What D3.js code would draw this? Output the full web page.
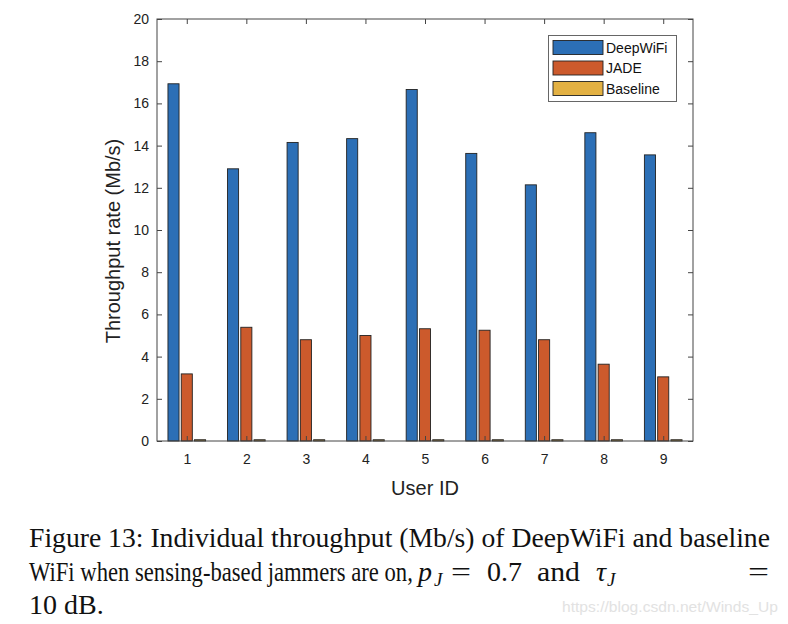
<!DOCTYPE html>
<html>
<head>
<meta charset="utf-8">
<script src="https://cdn.jsdelivr.net/npm/d3@7"></script>
<style>
  html, body { margin: 0; padding: 0; background: #fff; }
  svg { display: block; }
</style>
</head>
<body>
<svg id="chart" width="788" height="624"></svg>
<script>
// ---- Data ----
const users = [1, 2, 3, 4, 5, 6, 7, 8, 9];
const seriesNames = ["DeepWiFi", "JADE", "Baseline"];
const deepWiFi = [16.93, 12.90, 14.15, 14.33, 16.66, 13.63, 12.14, 14.61, 13.56];
const jade = [3.18, 5.39, 4.80, 5.00, 5.32, 5.25, 4.80, 3.64, 3.04];
const baseline = [0.06, 0.06, 0.06, 0.06, 0.06, 0.06, 0.06, 0.06, 0.06];
const yTicks = [0, 2, 4, 6, 8, 10, 12, 14, 16, 18, 20];
const colors = ["#2c6fb6", "#cc5a2c", "#e3b143"];

(function () {
const svg = d3.select("#chart");
const pLeft = 157, pRight = 693, pTop = 19, pBottom = 441;

const x = d3.scaleLinear().domain([0.5, 9.5]).range([pLeft, pRight]);
const y = d3.scaleLinear().domain([0, 20]).range([pBottom, pTop]);

const series = [deepWiFi, jade, baseline];
const offsetUnits = 0.223, barW = 0.186;

// Bars
const gBars = svg.append("g");
series.forEach((vals, si) => {
  gBars.selectAll(null)
    .data(vals.map((v, i) => ({ u: users[i], v })))
    .enter().append("rect")
    .attr("x", d => x(d.u + (si - 1) * offsetUnits - barW / 2))
    .attr("width", d => x(d.u + barW / 2) - x(d.u - barW / 2))
    .attr("y", d => y(d.v))
    .attr("height", d => y(0) - y(d.v))
    .attr("fill", colors[si])
    .attr("stroke", "#222")
    .attr("stroke-width", 0.9);
});

// Axes (box with inward ticks)
const axisColor = "#444";
const font = "'Liberation Sans', Arial, Helvetica, sans-serif";

const yAxisL = d3.axisLeft(y).tickValues(yTicks).tickSize(-5).tickPadding(8).tickFormat(d3.format("d"));
const yAxisR = d3.axisRight(y).tickValues(yTicks).tickSize(-5).tickFormat("");
const xAxisB = d3.axisBottom(x).tickValues(users).tickSize(-5).tickPadding(13).tickFormat(d3.format("d"));
const xAxisT = d3.axisTop(x).tickValues(users).tickSize(-5).tickFormat("");

function styleAxis(g) {
  g.select(".domain").remove();
  g.selectAll(".tick line").attr("stroke", axisColor).attr("stroke-width", 1);
  g.selectAll(".tick text").attr("fill", "#222").style("font-family", font).style("font-size", "14px");
}

svg.append("g").attr("transform", `translate(${pLeft},0)`).call(yAxisL).call(styleAxis);
svg.append("g").attr("transform", `translate(${pRight},0)`).call(yAxisR).call(styleAxis);
svg.append("g").attr("transform", `translate(0,${pBottom})`).call(xAxisB).call(styleAxis);
svg.append("g").attr("transform", `translate(0,${pTop})`).call(xAxisT).call(styleAxis);

svg.append("rect")
  .attr("x", pLeft).attr("y", pTop)
  .attr("width", pRight - pLeft).attr("height", pBottom - pTop)
  .attr("fill", "none").attr("stroke", axisColor).attr("stroke-width", 1);

// Axis labels
svg.append("text")
  .attr("transform", `translate(120,241) rotate(-90)`)
  .attr("text-anchor", "middle")
  .style("font-family", font).style("font-size", "20px").attr("fill", "#222")
  .text("Throughput rate (Mb/s)");

svg.append("text")
  .attr("x", (pLeft + pRight) / 2).attr("y", 495)
  .attr("text-anchor", "middle")
  .style("font-family", font).style("font-size", "20px").attr("fill", "#222")
  .text("User ID");

// Legend
const lg = svg.append("g");
lg.append("rect").attr("x", 548.5).attr("y", 35.5).attr("width", 128).attr("height", 66)
  .attr("fill", "#fff").attr("stroke", "#666").attr("stroke-width", 1);
seriesNames.forEach((name, i) => {
  const cy = 47.5 + i * 20.5;
  lg.append("rect").attr("x", 553).attr("y", cy - 7).attr("width", 50).attr("height", 14)
    .attr("fill", colors[i]).attr("stroke", "#222").attr("stroke-width", 0.9);
  lg.append("text").attr("x", 606).attr("y", cy + 5)
    .style("font-family", font).style("font-size", "14px").attr("fill", "#111")
    .text(name);
});

// Caption
const serif = "'Liberation Serif', 'Times New Roman', serif";
const cap = svg.append("g").style("font-family", serif).attr("fill", "#111").style("font-size", "28px");

// fit a text horizontally to a target width by scaling it
function fitText(sel, x0, y0, width) {
  const natural = sel.node().getComputedTextLength();
  sel.attr("transform", `translate(${x0},${y0}) scale(${width / natural},1)`);
}

const line1 = cap.append("text").attr("x", 0).attr("y", 0)
  .text("Figure 13: Individual throughput (Mb/s) of DeepWiFi and baseline");
fitText(line1, 29, 547, 741);

const line2a = cap.append("text").attr("x", 0).attr("y", 0)
  .text("WiFi when sensing-based jammers are on,");
fitText(line2a, 29, 581, 384);

const pj = cap.append("text").attr("x", 418).attr("y", 581);
pj.append("tspan").style("font-style", "italic").text("p");
pj.append("tspan").attr("dx", 2).attr("dy", 5).style("font-size", "19px").style("font-style", "italic").text("J");

const eq1 = cap.append("text").attr("x", 0).attr("y", 0).text("=");
fitText(eq1, 451, 581, 20);
cap.append("text").attr("x", 487).attr("y", 581).text("0.7");
const andT = cap.append("text").attr("x", 0).attr("y", 0).text("and");
fitText(andT, 537, 581, 43);

const tj = cap.append("text").attr("x", 596).attr("y", 581);
tj.append("tspan").style("font-style", "italic").text("τ");
tj.append("tspan").attr("dx", 1).attr("dy", 5).style("font-size", "19px").style("font-style", "italic").text("J");

const eq2 = cap.append("text").attr("x", 0).attr("y", 0).text("=");
fitText(eq2, 748, 581, 21);

cap.append("text").attr("x", 29).attr("y", 614).text("10 dB.");

// Watermark
const wm = svg.append("text").attr("x", 0).attr("y", 0)
  .style("font-family", font).style("font-size", "15px").attr("fill", "#e2e2e2")
  .text("https://blog.csdn.net/Winds_Up");
fitText(wm, 562, 612, 216);
})();
</script>
</body>
</html>
